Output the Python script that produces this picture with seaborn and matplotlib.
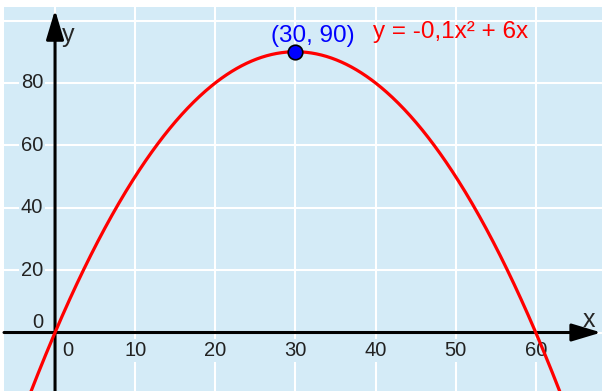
import numpy as np
import pandas as pd
import matplotlib
matplotlib.use("Agg")
import matplotlib.pyplot as plt
import seaborn as sns

# Parabola y = a*x^2 + b*x and its vertex
coef_a = -0.1
coef_b = 6.0
vertex_x = [30]
vertex_y = [90]

x_tick_values = [0, 10, 20, 30, 40, 50, 60]
y_tick_values = [0, 20, 40, 60, 80]
y_grid_values = [0, 20, 40, 60, 80, 100]

equation_label = "y = -0,1x² + 6x"
vertex_label = "(30, 90)"

BG = "#d4ebf7"
FONT = "Liberation Sans"

sns.set_theme(style="darkgrid", rc={
    "axes.facecolor": BG,
    "grid.color": "white",
    "grid.linewidth": 1.5,
    "figure.facecolor": "white",
})
plt.rcParams["font.family"] = [FONT, "DejaVu Sans"]

fig = plt.figure(figsize=(6.02, 3.91), dpi=100)
ax = fig.add_axes([4 / 602, 0, 598 / 602, 384.5 / 391])

xmin, xmax = -6.37, 68.27
ymin, ymax = -18.75, 104.5

xs = np.linspace(xmin, xmax, 600)
curve = pd.DataFrame({"x": xs, "y": coef_a * xs ** 2 + coef_b * xs})
sns.lineplot(data=curve, x="x", y="y", color="#ff0000", linewidth=2.3,
             ax=ax, zorder=6)

pts = pd.DataFrame({"x": vertex_x, "y": vertex_y})
sns.scatterplot(data=pts, x="x", y="y", s=110, color="#0000ff",
                edgecolor="black", linewidth=1.2, ax=ax, zorder=8)

ax.set_xlim(xmin, xmax)
ax.set_ylim(ymin, ymax)
ax.set_xticks(x_tick_values)
ax.set_yticks(y_grid_values)
ax.tick_params(labelbottom=False, labelleft=False, length=0)
ax.set_xlabel("")
ax.set_ylabel("")
for s in ax.spines.values():
    s.set_visible(False)

# Coordinate axes with arrow heads
axis_kw = dict(arrowstyle="-|>,head_length=0.9,head_width=0.27",
               color="black", lw=2.2, shrinkA=0, shrinkB=0,
               mutation_scale=20)
ax.annotate("", xy=(xmax - 0.1, 0), xytext=(xmin, 0),
            arrowprops=axis_kw, zorder=5, annotation_clip=False)
ax.annotate("", xy=(0, 103.4), xytext=(0, ymin),
            arrowprops=axis_kw, zorder=5, annotation_clip=False)

ax.text(0.85, 95.3, "y", fontsize=18, ha="left", va="center", zorder=7)
ax.text(66.7, 4.0, "x", fontsize=18, ha="center", va="center", zorder=7)

lbl_box = dict(facecolor=BG, edgecolor="none", pad=1.5)
for v in x_tick_values:
    dx = 9.5 if v == 0 else 0
    ax.annotate(str(v), xy=(v, 0), xytext=(dx, -13.3),
                textcoords="offset points", ha="center", va="center",
                fontsize=14.5, color="#222222", bbox=lbl_box, zorder=4)
for v in y_tick_values:
    dy = 7.5 if v == 0 else 0
    ax.annotate(str(v), xy=(0, v), xytext=(-8.6, dy),
                textcoords="offset points", ha="right", va="center",
                fontsize=14.5, color="#222222", bbox=lbl_box, zorder=4)

ax.annotate(vertex_label, xy=(vertex_x[0], vertex_y[0]), xytext=(12.5, 11.5),
            textcoords="offset points", ha="center", va="center",
            fontsize=17.5, color="#0000ff", zorder=9)
ax.text(39.7, 96.2, equation_label, fontsize=17.5, color="#ff0000",
        ha="left", va="center", zorder=9)

fig.savefig("out.png", dpi=100)
